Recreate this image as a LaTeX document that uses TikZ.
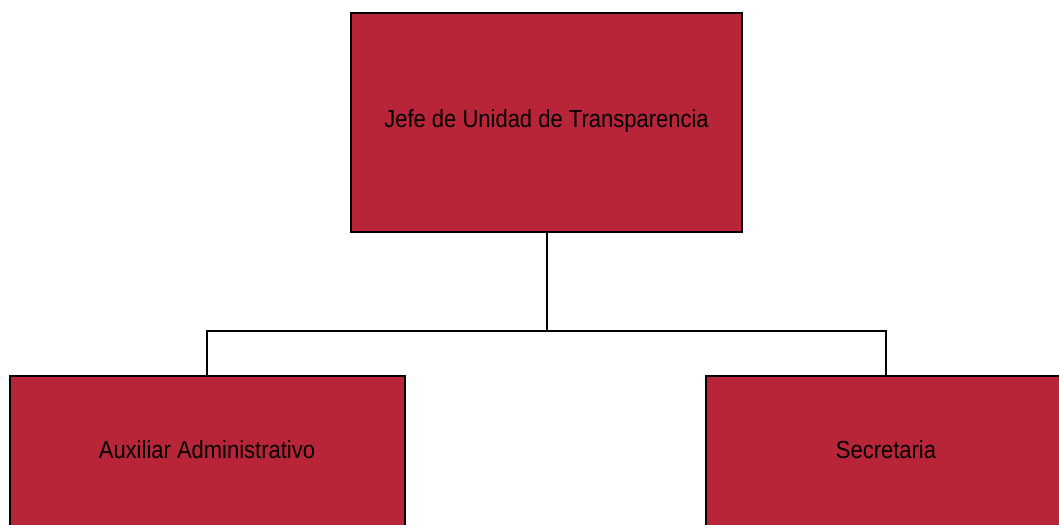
\documentclass[tikz,border=0pt]{standalone}
\usepackage{fontspec}
\setmainfont{Liberation Sans}[FakeStretch=0.89]
\definecolor{boxred}{HTML}{B82538}
\begin{document}
\begin{tikzpicture}[x=1bp,y=-1bp,
  orgbox/.style={draw=black,line width=2bp,fill=boxred},
  lbl/.style={font=\fontsize{24.8}{28}\selectfont,inner sep=0pt},
  conn/.style={draw=black,line width=2bp}]
\useasboundingbox (0,0) rectangle (1059,525);
\clip (0,0) rectangle (1059,525);
\draw[orgbox] (351,13) rectangle (742,232);
\draw[orgbox] (10,376) rectangle (405,540);
\draw[orgbox] (706,376) rectangle (1070,540);
\coordinate (topb) at (547,232);
\coordinate (lt) at (207,376);
\coordinate (rt) at (886,376);
\coordinate (mid) at (547,331);
\node[lbl] (jefe) at (546.5,121.5) {Jefe de Unidad de Transparencia};
\node[lbl] (aux) at (207,449.5) {Auxiliar Administrativo};
\node[lbl] (sec) at (886,449.5) {Secretaria};
\draw[conn] (topb) -- (mid);
\draw[conn] (lt) |- (mid) -| (rt);
\end{tikzpicture}
\end{document}
